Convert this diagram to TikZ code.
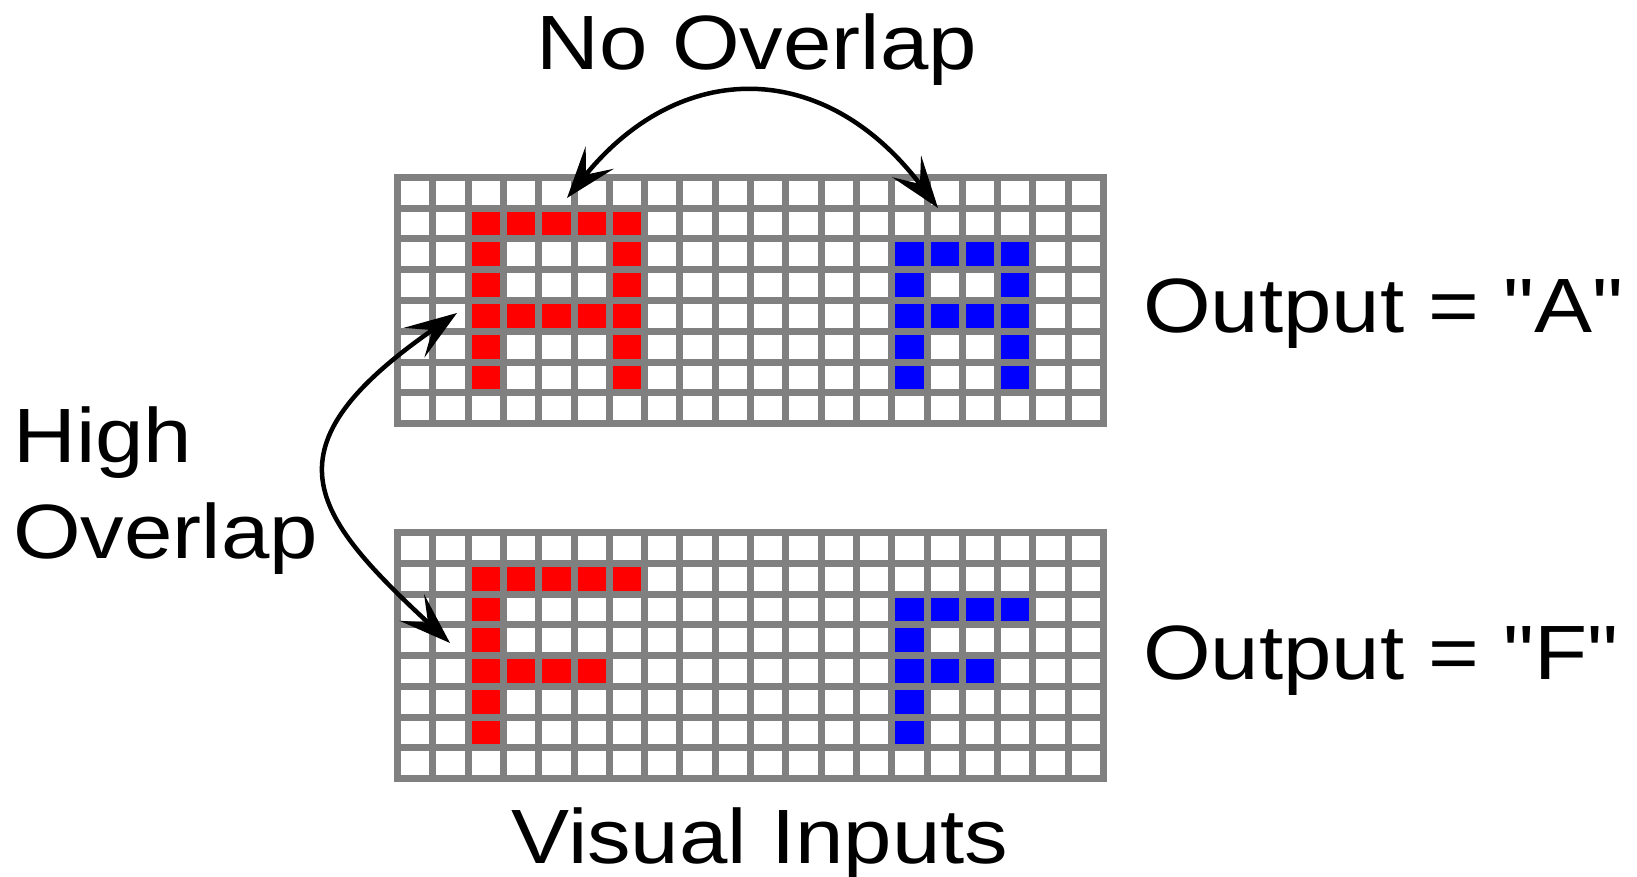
\documentclass[tikz,border=0pt]{standalone}
\usepackage{fontspec}
\setmainfont{Liberation Sans}[Ligatures=TeXOff]
\usepackage{graphicx}
\usetikzlibrary{arrows.meta}

% labels are set slightly wider than the font's natural width
\newcommand\widetext[1]{\scalebox{1.13}[1]{#1}}

\definecolor{gridgray}{RGB}{128,128,128}
\definecolor{pixred}{RGB}{255,0,0}
\definecolor{pixblue}{RGB}{0,0,255}

\tikzset{
  labeltext/.style={inner sep=0pt, font=\fontsize{77}{80}\selectfont},
  gridline/.style={line width=7pt, draw=gridgray, line cap=rect},
  link/.style={line width=4.5pt, black, {Stealth[length=52pt,width=36pt,inset=22pt]}-{Stealth[length=52pt,width=36pt,inset=22pt]}},
}

% cell pitch of the 20 x 8 pixel grids
\newcommand\cw{35.3}
\newcommand\ch{30.75}

\begin{document}
\begin{tikzpicture}[x=1pt,y=-1pt]
\useasboundingbox (0,0) rectangle (1637,877);
\fill[white] (0,0) rectangle (1637,877);

% ---- upper grid: the letter A twice
\begin{scope}[shift={(397.5,177.5)}]
  \fill[white] (0,0) rectangle (20*\cw,8*\ch);
  \foreach \c/\r in {2/1,3/1,4/1,5/1,6/1, 2/2,6/2, 2/3,6/3,
                     2/4,3/4,4/4,5/4,6/4, 2/5,6/5, 2/6,6/6}
    \fill[pixred] (\c*\cw,\r*\ch) rectangle ({(\c+1)*\cw},{(\r+1)*\ch});
  \foreach \c/\r in {14/2,15/2,16/2,17/2, 14/3,17/3,
                     14/4,15/4,16/4,17/4, 14/5,17/5, 14/6,17/6}
    \fill[pixblue] (\c*\cw,\r*\ch) rectangle ({(\c+1)*\cw},{(\r+1)*\ch});
  \foreach \i in {0,...,20} \draw[gridline] (\i*\cw,0) -- (\i*\cw,8*\ch);
  \foreach \j in {0,...,8} \draw[gridline] (0,\j*\ch) -- (20*\cw,\j*\ch);
\end{scope}

% ---- lower grid: the letter F twice
\begin{scope}[shift={(397.5,532.5)}]
  \fill[white] (0,0) rectangle (20*\cw,8*\ch);
  \foreach \c/\r in {2/1,3/1,4/1,5/1,6/1, 2/2, 2/3,
                     2/4,3/4,4/4,5/4, 2/5, 2/6}
    \fill[pixred] (\c*\cw,\r*\ch) rectangle ({(\c+1)*\cw},{(\r+1)*\ch});
  \foreach \c/\r in {14/2,15/2,16/2,17/2, 14/3,
                     14/4,15/4,16/4, 14/5, 14/6}
    \fill[pixblue] (\c*\cw,\r*\ch) rectangle ({(\c+1)*\cw},{(\r+1)*\ch});
  \foreach \i in {0,...,20} \draw[gridline] (\i*\cw,0) -- (\i*\cw,8*\ch);
  \foreach \j in {0,...,8} \draw[gridline] (0,\j*\ch) -- (20*\cw,\j*\ch);
\end{scope}

% ---- labels
\node[labeltext, anchor=base] (noov) at (757,70) {\widetext{No Overlap}};
\node[labeltext, anchor=base west] (outa) at (1143,332) {\widetext{Output = "A"}};
\node[labeltext, anchor=base west] (outf) at (1143,679) {\widetext{Output = "F"}};
\node[labeltext, anchor=base west] (high) at (13,462) {\widetext{High}};
\node[labeltext, anchor=base west] (ovl) at (13,558) {\widetext{Overlap}};
\node[labeltext, anchor=base] (vis) at (760,863) {\widetext{Visual Inputs}};

% ---- arrow end points on the grids
\coordinate (redA) at (567,198);
\coordinate (blueA) at (938,208);
\coordinate (redAside) at (457,313);
\coordinate (redFside) at (450,643);

\draw[link] (redA) .. controls (680,58) and (825,58) .. (blueA);
\draw[link] (redAside) .. controls (262,448) and (310,513) .. (redFside);
\end{tikzpicture}
\end{document}
